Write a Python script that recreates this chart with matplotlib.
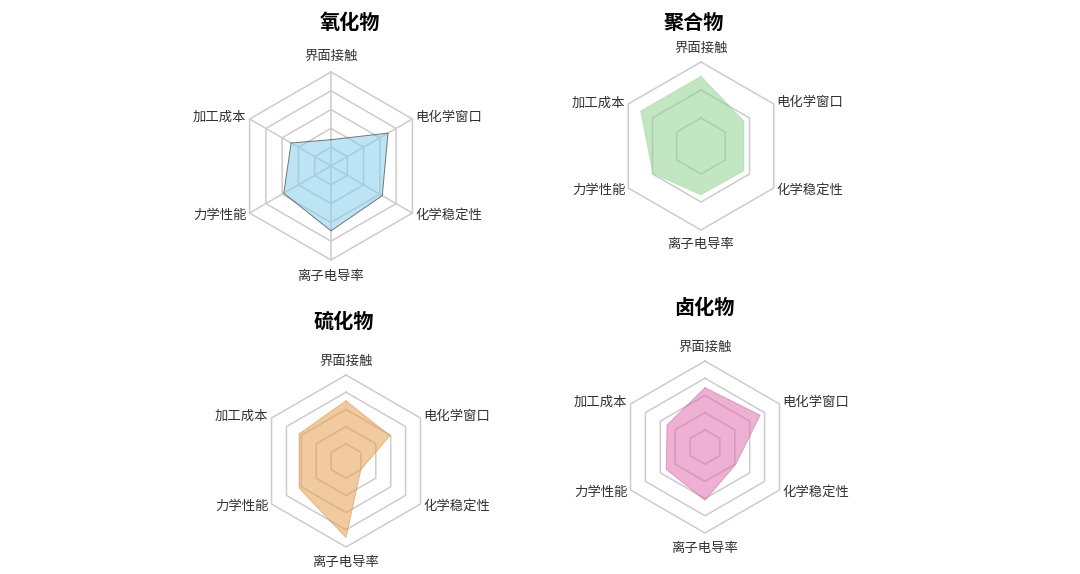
import numpy as np
import matplotlib
matplotlib.use('Agg')
import matplotlib.pyplot as plt

plt.rcParams['font.family'] = ['Noto Sans CJK SC', 'DejaVu Sans']

# data (scores, outer ring = 10)
categories = ['界面接触', '电化学窗口', '化学稳定性', '离子电导率', '力学性能', '加工成本']
titles = ['氧化物', '聚合物', '硫化物', '卤化物']
oxide = [2.8, 7.0, 6.3, 6.9, 5.8, 4.9]
polymer = [8.3, 5.9, 5.9, 5.8, 6.6, 8.3]
sulfide = [7.0, 5.9, 2.0, 8.9, 6.3, 6.3]
halide = [6.9, 7.4, 4.1, 6.2, 5.2, 5.1]
series = [oxide, polymer, sulfide, halide]

# look
fill_colors = ['#87CEEB', '#90D090', '#E6A050', '#E070B0']
edge_colors = ['#555555', '#90D090', '#D08C40', '#D060A0']
edge_alpha = [0.8, 0.4, 0.5, 0.5]
n_rings = [5, 3, 5, 5]
spokes = [True, False, False, False]

# layout in pixels: center x, center y, radius, title x, title y
W, H = 1080, 574
layout = [
    (331, 166, 94, 350, 22),
    (701, 146, 84, 694, 22),
    (346, 461, 86, 344, 321),
    (705, 447, 86, 704, 307),
]

fig = plt.figure(figsize=(W / 100, H / 100), dpi=100)
fig.patch.set_facecolor('white')

N = len(categories)
angles = np.linspace(0, 2 * np.pi, N, endpoint=False).tolist()
closed = angles + angles[:1]

for i, vals in enumerate(series):
    cx, cy, R, tx, ty = layout[i]
    ax = fig.add_axes([(cx - R) / W, 1 - (cy + R) / H, 2 * R / W, 2 * R / H],
                      projection='polar')
    ax.set_theta_offset(np.pi / 2)
    ax.set_theta_direction(-1)
    ax.set_ylim(0, 10)
    ax.axis('off')

    # hexagon grid
    for k in range(1, n_rings[i] + 1):
        r = 10 * k / n_rings[i]
        ax.plot(closed, [r] * (N + 1), color='#cccccc', lw=1.1, zorder=1, clip_on=False)
    if spokes[i]:
        for a in angles:
            ax.plot([a, a], [0, 10], color='#cccccc', lw=1.1, zorder=1, clip_on=False)

    v = list(vals) + vals[:1]
    ax.fill(closed, v, color=fill_colors[i], alpha=0.55, zorder=2, lw=0)
    ax.plot(closed, v, color=edge_colors[i], lw=0.7, alpha=edge_alpha[i], zorder=3)

    for a, lab in zip(angles, categories):
        deg = np.degrees(a) % 360
        if deg < 1 or abs(deg - 180) < 1:
            ax.text(a, 11.7, lab, ha='center', va='center', fontsize=9.6, color='#333333')
        elif deg < 180:
            ax.text(a, 10.4, lab, ha='left', va='center', fontsize=9.6, color='#333333')
        else:
            ax.text(a, 10.4, lab, ha='right', va='center', fontsize=9.6, color='#333333')

    fig.text(tx / W, 1 - ty / H, titles[i], ha='center', va='center',
             fontsize=14.5, fontweight='bold', color='black')

fig.savefig('out.png', dpi=100, facecolor='white')
